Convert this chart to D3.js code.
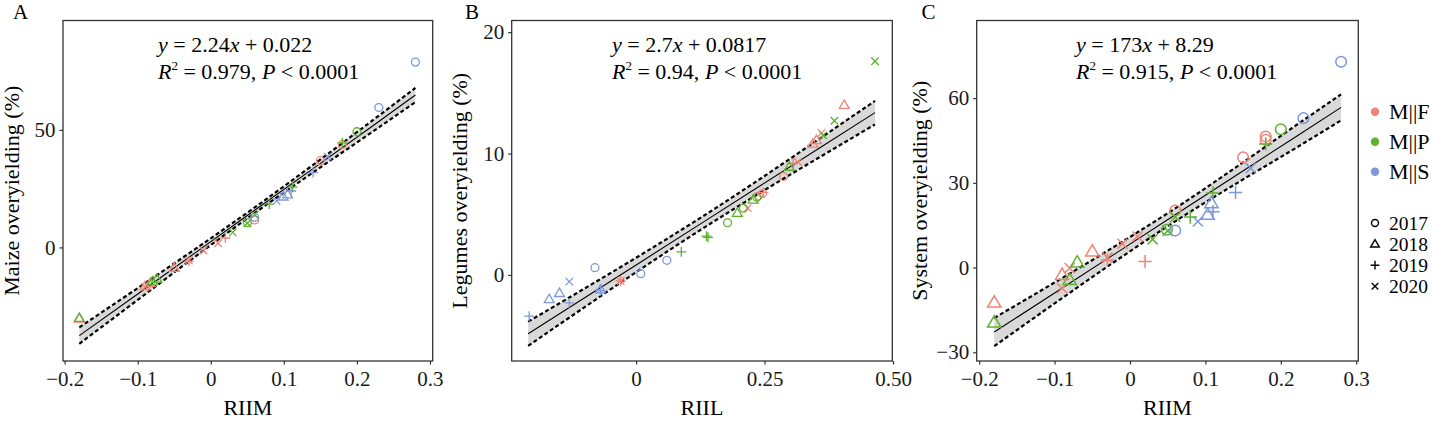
<!DOCTYPE html>
<html>
<head>
<meta charset="utf-8">
<script src="https://cdn.jsdelivr.net/npm/d3@7"></script>
<style>
body { margin: 0; background: #fff; }
text { font-family: "Liberation Serif", "Times New Roman", serif; }
</style>
</head>
<body>
<div id="chart"></div>
<script>
'use strict';

var groups = ['M||F', 'M||P', 'M||S'];
var groupColors = ['#F08376', '#5DB12E', '#7D97DA'];
var years = [2017, 2018, 2019, 2020];

// rows: [x, y, group index, year]
var pointsA = [
  [0.18, 43.8, 0, 2017], [0.15, 36.9, 0, 2017], [0.06, 11.7, 0, 2017],
  [-0.18, -30.3, 0, 2018], [-0.09, -16.5, 0, 2018], [-0.083, -15.2, 0, 2018], [-0.05, -8.7, 0, 2018],
  [-0.03, -5.9, 0, 2019], [0.02, 4.0, 0, 2019],
  [-0.09, -16.8, 0, 2020], [-0.03, -5.6, 0, 2020], [-0.01, -1.3, 0, 2020], [0.01, 1.8, 0, 2020],
  [0.2, 49.2, 1, 2017], [0.05, 10.5, 1, 2017],
  [-0.18, -30.0, 1, 2018], [-0.074, -13.4, 1, 2018], [-0.08, -14.5, 1, 2018],
  [0.18, 44.5, 1, 2019], [0.112, 25.6, 1, 2019], [0.08, 18.4, 1, 2019],
  [0.06, 13.9, 1, 2020], [0.05, 10.3, 1, 2020], [0.03, 6.4, 1, 2020],
  [0.28, 78.8, 2, 2017], [0.23, 59.5, 2, 2017], [0.06, 12.8, 2, 2017],
  [0.099, 21.6, 2, 2018], [0.105, 22.5, 2, 2018],
  [0.14, 31.8, 2, 2019], [0.11, 24.0, 2, 2019],
  [0.16, 38.6, 2, 2020], [0.09, 19.8, 2, 2020]
];

var pointsB = [
  [0.287, 8.1, 0, 2017], [0.246, 6.7, 0, 2017], [0.238, 6.5, 0, 2017],
  [0.405, 14.0, 0, 2018], [0.351, 11.1, 0, 2018], [0.344, 10.8, 0, 2018],
  [0.306, 9.2, 0, 2019], [0.248, 6.8, 0, 2019], [-0.03, -0.5, 0, 2019],
  [0.361, 11.7, 0, 2020], [0.315, 9.3, 0, 2020], [0.217, 5.5, 0, 2020], [-0.03, -0.5, 0, 2020],
  [0.235, 6.4, 1, 2017], [0.209, 5.5, 1, 2017], [0.178, 4.3, 1, 2017],
  [0.298, 8.9, 1, 2018], [0.228, 6.2, 1, 2018], [0.197, 5.1, 1, 2018],
  [0.137, 3.2, 1, 2019], [0.14, 3.1, 1, 2019], [0.088, 1.9, 1, 2019],
  [0.465, 17.6, 1, 2020], [0.386, 12.7, 1, 2020], [0.364, 11.5, 1, 2020],
  [0.06, 1.2, 2, 2017], [0.009, 0.1, 2, 2017], [-0.08, 0.6, 2, 2017],
  [-0.069, -1.2, 2, 2018], [-0.149, -1.5, 2, 2018], [-0.169, -2.0, 2, 2018],
  [-0.069, -1.3, 2, 2019], [-0.13, -2.3, 2, 2019], [-0.208, -3.4, 2, 2019],
  [-0.13, -0.55, 2, 2020]
];

var pointsC = [
  [0.18, 46.4, 0, 2017], [0.18, 45.2, 0, 2017], [0.15, 39.0, 0, 2017], [0.06, 20.2, 0, 2017],
  [-0.18, -12.4, 0, 2018], [-0.09, -2.6, 0, 2018], [-0.05, 5.7, 0, 2018],
  [0.02, 2.1, 0, 2019], [-0.03, 2.7, 0, 2019],
  [-0.03, 3.5, 0, 2020], [-0.09, -7.3, 0, 2020], [-0.08, -0.2, 0, 2020], [-0.01, 8.4, 0, 2020], [0.01, 11.0, 0, 2020],
  [0.2, 49.0, 1, 2017], [0.049, 13.4, 1, 2017],
  [-0.18, -19.5, 1, 2018], [-0.07, 1.8, 1, 2018], [-0.08, -4.4, 1, 2018],
  [0.18, 43.8, 1, 2019], [0.11, 26.4, 1, 2019], [0.08, 17.9, 1, 2019],
  [0.06, 17.9, 1, 2020], [0.03, 10.0, 1, 2020], [0.05, 13.0, 1, 2020],
  [0.28, 72.9, 2, 2017], [0.23, 52.9, 2, 2017], [0.06, 13.1, 2, 2017],
  [0.108, 22.8, 2, 2018], [0.103, 18.7, 2, 2018],
  [0.14, 26.6, 2, 2019], [0.11, 19.8, 2, 2019],
  [0.16, 35.2, 2, 2020], [0.09, 16.3, 2, 2020]
];

// fitted line with confidence band: [x, fit, half width]
var fitA = [[-0.18, -37.5, 3.5], [-0.1, -19.8, 2.5], [-0.02, -2.0, 1.6], [0.06, 15.8, 1.2],
            [0.14, 33.5, 1.6], [0.22, 51.3, 2.4], [0.28, 64.8, 3.0]];
var fitB = [[-0.21, -4.85, 1.0], [-0.1, -1.88, 0.77], [0.02, 1.36, 0.57], [0.13, 4.33, 0.5],
            [0.24, 7.3, 0.57], [0.36, 10.54, 0.77], [0.465, 13.37, 0.97]];
var fitC = [[-0.18, -22.85, 5.0], [-0.1, -9.01, 3.7], [-0.02, 4.83, 2.7], [0.06, 18.67, 2.3],
            [0.14, 32.51, 2.9], [0.22, 46.35, 4.0], [0.28, 56.73, 4.6]];

var eqA = ['2.24', '0.022', '0.979'];
var eqB = ['2.7', '0.0817', '0.94'];
var eqC = ['173', '8.29', '0.915'];

var xTicksA = [-0.2, -0.1, 0, 0.1, 0.2, 0.3];
var yTicksA = [0, 50];
var xTicksB = [0, 0.25, 0.5];
var xTickLabelsB = ['0', '0.25', '0.50'];
var yTicksB = [0, 10, 20];
var xTicksC = [-0.2, -0.1, 0, 0.1, 0.2, 0.3];
var yTicksC = [-30, 0, 30, 60];

var W = 1433, H = 423;
var svg = d3.select('#chart').append('svg').attr('width', W).attr('height', H);

function minusFmt(v) { return String(v).replace('-', '\u2212'); }

// open shapes like ggplot 1 (circle), 2 (triangle), 3 (plus), 4 (cross)
function markPath(year, s)
{
  if (year === 2017) {
    var r = s * 0.76;
    return d3.symbol().type(d3.symbolCircle).size(Math.PI * r * r)();
  }
  if (year === 2018) {
    var w = s * 0.95, h = w * 1.7;
    return 'M0,' + (-h * 0.6) + 'L' + w + ',' + (h * 0.4) + 'L' + (-w) + ',' + (h * 0.4) + 'Z';
  }
  if (year === 2019) {
    var p = s * 0.95;
    return 'M' + (-p) + ',0H' + p + 'M0,' + (-p) + 'V' + p;
  }
  var k = s * 0.72;
  return 'M' + (-k) + ',' + (-k) + 'L' + k + ',' + k + 'M' + (-k) + ',' + k + 'L' + k + ',' + (-k);
}

function drawPanel(p)
{
  var x = d3.scaleLinear().domain(p.xDomain).range([p.left, p.right]);
  var y = d3.scaleLinear().domain(p.yDomain).range([p.bottom, p.top]);
  var g = svg.append('g');

  g.append('path').datum(p.fit)
    .attr('d', d3.area().x(function(d){ return x(d[0]); })
      .y0(function(d){ return y(d[1] - d[2]); }).y1(function(d){ return y(d[1] + d[2]); })
      .curve(d3.curveMonotoneX))
    .attr('fill', '#D9D9D9');

  [-1, 1].forEach(function(sgn) {
    g.append('path').datum(p.fit)
      .attr('d', d3.line().x(function(d){ return x(d[0]); })
        .y(function(d){ return y(d[1] + sgn * d[2]); }).curve(d3.curveMonotoneX))
      .attr('fill', 'none').attr('stroke', '#000').attr('stroke-width', 2.2)
      .attr('stroke-dasharray', '4,2.6');
  });

  g.append('path').datum(p.fit)
    .attr('d', d3.line().x(function(d){ return x(d[0]); }).y(function(d){ return y(d[1]); }))
    .attr('fill', 'none').attr('stroke', '#000').attr('stroke-width', 1.1);

  g.selectAll('path.pt').data(p.points).enter().append('path')
    .attr('class', 'pt')
    .attr('transform', function(d){ return 'translate(' + x(d[0]) + ',' + y(d[1]) + ')'; })
    .attr('d', function(d){ return markPath(d[3], p.mark); })
    .attr('fill', 'none')
    .attr('stroke', function(d){ return groupColors[d[2]]; })
    .attr('stroke-width', p.mark > 6 ? 1.5 : 1.3);

  g.append('rect')
    .attr('x', p.left).attr('y', p.top)
    .attr('width', p.right - p.left).attr('height', p.bottom - p.top)
    .attr('fill', 'none').attr('stroke', '#333').attr('stroke-width', 1.3);

  var xAxis = d3.axisBottom(x).tickValues(p.xTicks).tickSize(3.5).tickPadding(7)
    .tickFormat(function(d, i){ return p.xLabels ? p.xLabels[i] : minusFmt(d); });
  var yAxis = d3.axisLeft(y).tickValues(p.yTicks).tickSize(3.5).tickPadding(4)
    .tickFormat(minusFmt);

  var xg = g.append('g').attr('transform', 'translate(0,' + p.bottom + ')').call(xAxis);
  var yg = g.append('g').attr('transform', 'translate(' + p.left + ',0)').call(yAxis);
  [xg, yg].forEach(function(a) {
    a.select('.domain').remove();
    a.selectAll('line').attr('stroke', '#333').attr('stroke-width', 1.2);
    a.selectAll('text').attr('font-size', 21).attr('fill', '#1a1a1a')
      .attr('font-family', '"Liberation Serif", serif');
  });

  g.append('text').attr('x', (p.left + p.right) / 2).attr('y', 415)
    .attr('text-anchor', 'middle').attr('font-size', 22).text(p.xTitle);

  g.append('text')
    .attr('transform', 'translate(' + p.yTitleX + ',' + ((p.top + p.bottom) / 2) + ') rotate(-90)')
    .attr('text-anchor', 'middle').attr('font-size', 22).text(p.yTitle);

  g.append('text').attr('x', p.letterX).attr('y', 19).attr('font-size', 21).text(p.letter);

  var t1 = g.append('text').attr('x', p.eqX).attr('y', 51.7).attr('font-size', 22);
  t1.append('tspan').attr('font-style', 'italic').text('y');
  t1.append('tspan').text(' = ' + p.eq[0]);
  t1.append('tspan').attr('font-style', 'italic').text('x');
  t1.append('tspan').text(' + ' + p.eq[1]);

  var t2 = g.append('text').attr('x', p.eqX).attr('y', 79).attr('font-size', 22);
  t2.append('tspan').attr('font-style', 'italic').text('R');
  t2.append('tspan').attr('font-size', 13).attr('dy', -9).text('2');
  t2.append('tspan').attr('dy', 9).text(' = ' + p.eq[2] + ', ');
  t2.append('tspan').attr('font-style', 'italic').text('P');
  t2.append('tspan').text(' < 0.0001');
}

drawPanel({
  left: 63, right: 432.7, top: 20.5, bottom: 361,
  xDomain: [-0.2023, 0.3037], yDomain: [-48.3, 96.5],
  xTicks: xTicksA, yTicks: yTicksA,
  points: pointsA, fit: fitA, eq: eqA, mark: 5.2,
  xTitle: 'RIIM', yTitle: 'Maize overyielding (%)', yTitleX: 18.5,
  letter: 'A', letterX: 13, eqX: 158
});

drawPanel({
  left: 511.7, right: 892.3, top: 20.5, bottom: 361,
  xDomain: [-0.242, 0.4986], yDomain: [-7.09, 20.96],
  xTicks: xTicksB, xLabels: xTickLabelsB, yTicks: yTicksB,
  points: pointsB, fit: fitB, eq: eqB, mark: 5.2,
  xTitle: 'RIIL', yTitle: 'Legumes overyielding (%)', yTitleX: 467,
  letter: 'B', letterX: 465, eqX: 612
});

drawPanel({
  left: 976.7, right: 1358.3, top: 20.5, bottom: 361,
  xDomain: [-0.2033, 0.3028], yDomain: [-33.1, 87.5],
  xTicks: xTicksC, yTicks: yTicksC,
  points: pointsC, fit: fitC, eq: eqC, mark: 7,
  xTitle: 'RIIM', yTitle: 'System overyielding (%)', yTitleX: 927,
  letter: 'C', letterX: 921.5, eqX: 1076
});

// legend
var leg = svg.append('g');
groups.forEach(function(name, i) {
  var cy = 111.7 + i * 30;
  leg.append('circle').attr('cx', 1375).attr('cy', cy).attr('r', 4.2).attr('fill', groupColors[i]);
  leg.append('text').attr('x', 1389).attr('y', cy + 7.6).attr('font-size', 22).text(name);
});
years.forEach(function(yr, i) {
  var cy = 223 + i * 21.1;
  leg.append('path').attr('transform', 'translate(1375,' + cy + ')')
    .attr('d', markPath(yr, 4.6)).attr('fill', 'none').attr('stroke', '#000').attr('stroke-width', 1.4);
  leg.append('text').attr('x', 1389).attr('y', cy + 7).attr('font-size', 19.5).text(yr);
});
</script>
</body>
</html>
